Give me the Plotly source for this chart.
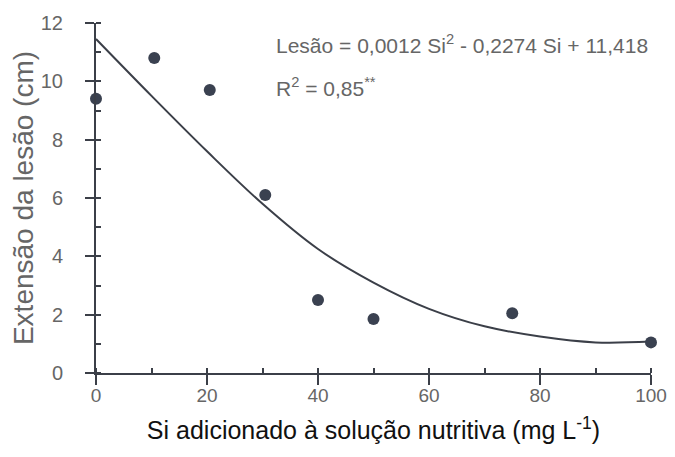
import plotly.graph_objects as go

# observed points
si_obs = [0, 10.5, 20.5, 30.5, 40, 50, 75, 100]
lesao_obs = [9.4, 10.8, 9.7, 6.1, 2.5, 1.85, 2.05, 1.05]

# fitted curve
si_fit = [0, 10, 20, 30, 40, 50, 60, 70, 80, 90, 100]
lesao_fit = [11.45, 9.5, 7.6, 5.8, 4.25, 3.1, 2.2, 1.6, 1.25, 1.05, 1.08]

x_ticks = [0, 20, 40, 60, 80, 100]
y_ticks = [0, 2, 4, 6, 8, 10, 12]

dark = "#3b3f48"
grey = "#666666"

fig = go.Figure()
fig.add_trace(go.Scatter(x=si_fit, y=lesao_fit, mode="lines", line_shape="spline",
                         line=dict(color=dark, width=2, smoothing=1), cliponaxis=False, showlegend=False))
fig.add_trace(go.Scatter(x=si_obs, y=lesao_obs, mode="markers",
                         marker=dict(color="#3a4150", size=12), cliponaxis=False, showlegend=False))

fig.add_annotation(x=0.32, y=0.94, xref="paper", yref="paper", xanchor="left", yanchor="middle",
                   text="Lesão = 0,0012 Si<sup>2</sup> - 0,2274 Si + 11,418", showarrow=False,
                   font=dict(size=21, color=grey, family="Liberation Sans"))
fig.add_annotation(x=0.32, y=0.817, xref="paper", yref="paper", xanchor="left", yanchor="middle",
                   text="R<sup>2</sup> = 0,85<sup>**</sup>", showarrow=False,
                   font=dict(size=21, color=grey, family="Liberation Sans"))

# page body has an 8px default margin; figure sized so the page never scrolls
fig.update_layout(
    width=659, height=441,
    margin=dict(l=88, r=16, t=15, b=76),
    paper_bgcolor="white", plot_bgcolor="white",
    font=dict(family="Liberation Sans"),
)
fig.update_xaxes(range=[0, 100], tickvals=x_ticks, showgrid=False, zeroline=False,
                 showline=True, linecolor=dark, linewidth=2, automargin=False,
                 ticks="outside", ticklen=10, tickwidth=2, tickcolor=dark,
                 ticklabelstandoff=-6, ticklabeloverflow="allow",
                 tickfont=dict(size=19, color=grey),
                 minor=dict(dtick=10, ticks="inside", ticklen=5, tickwidth=2, tickcolor=dark),
                 title=dict(text="Si adicionado à solução nutritiva (mg L<sup>-1</sup>)",
                            font=dict(size=25, color="#111111"), standoff=17))
fig.update_yaxes(range=[0, 12], tickvals=y_ticks, showgrid=False, zeroline=False,
                 showline=True, linecolor=dark, linewidth=2, automargin=False,
                 ticks="outside", ticklen=9, tickwidth=2, tickcolor=dark,
                 ticklabelstandoff=18,
                 tickfont=dict(size=20, color=grey),
                 minor=dict(dtick=1, ticks="inside", ticklen=5, tickwidth=2, tickcolor=dark),
                 title=dict(text="Extensão da lesão (cm)", font=dict(size=28, color=grey), standoff=0))

fig.write_html("out.html")
